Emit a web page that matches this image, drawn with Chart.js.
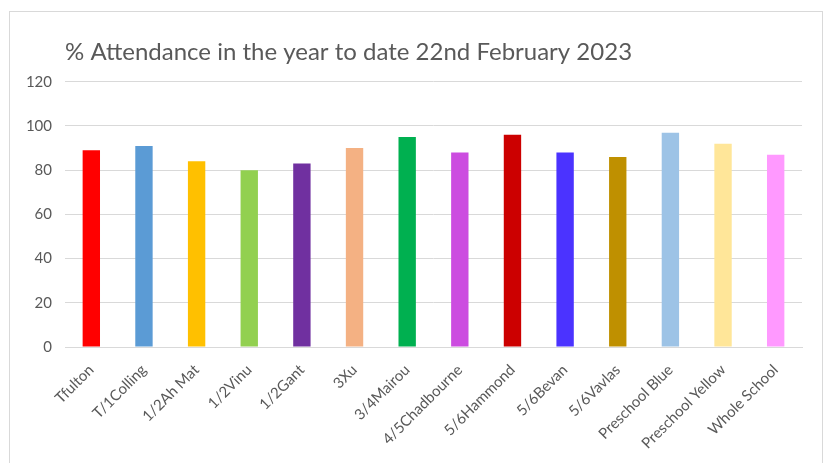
<!DOCTYPE html>
<html>
<head>
<meta charset="utf-8">
<script src="https://cdn.jsdelivr.net/npm/chart.js@4.4.0/dist/chart.umd.min.js"></script>
<style>
    body { margin: 0; background: #fff; }
    #box {
        position: absolute; left: 9px; top: 11px; width: 812px; height: 460px;
        border: 1px solid #d9d9d9; border-bottom: none; background: #fff;
    }
    #wrap { position: absolute; left: 0; top: 0; width: 812px; height: 452px; }
</style>
</head>
<body>
<div id="box"><div id="wrap"><canvas id="attendance_chart"></canvas></div></div>
<script>
const classNames = ["Tfulton", "T/1Colling", "1/2Ah Mat", "1/2Vinu", "1/2Gant", "3Xu", "3/4Mairou",
    "4/5Chadbourne", "5/6Hammond", "5/6Bevan", "5/6Vavlas", "Preschool Blue", "Preschool Yellow", "Whole School"];
const attendance = [89, 91, 84, 80, 83, 90, 95, 88, 96, 88, 86, 97, 92, 87];
const barColors = [
    "#ff0000",  // Tfulton
    "#5b9bd5",  // T/1Colling
    "#ffc000",  // 1/2Ah Mat
    "#92d050",  // 1/2Vinu
    "#7030a0",  // 1/2Gant
    "#f4b183",  // 3Xu
    "#00b050",  // 3/4Mairou
    "#cc4ce0",  // 4/5Chadbourne
    "#cc0000",  // 5/6Hammond
    "#4b33ff",  // 5/6Bevan
    "#bf9000",  // 5/6Vavlas
    "#9dc3e6",  // Preschool Blue
    "#ffe699",  // Preschool Yellow
    "#ff99ff",  // Whole School
];
const yTicks = [0, 20, 40, 60, 80, 100, 120];

const fontFamily = "Lato, 'Open Sans', sans-serif";
const ctx = document.getElementById("attendance_chart").getContext("2d");
const attendance_chart = new Chart(ctx, {
    type: 'bar',
    data: {
        labels: classNames,
        datasets: [{
            label: "% Attendance",
            data: attendance,
            backgroundColor: barColors,
            barPercentage: 0.33,
            categoryPercentage: 1,
        }],
    },
    options: {
        responsive: true, maintainAspectRatio: false, animation: false,
        layout: { padding: { left: 0, right: 20, top: 0, bottom: 0 } },
        plugins: {
            legend: { display: false },
            tooltip: { enabled: false },
            title: { display: true, text: '% Attendance in the year to date 22nd February 2023',
                align: 'start', fullSize: false, color: '#595959',
                font: { family: fontFamily, size: 24, weight: 'normal' },
                padding: { top: 26, bottom: 15 } },
        },
        scales: {
            x: {
                grid: { display: false },
                border: { color: '#d9d9d9' },
                ticks: { color: '#595959', font: { family: fontFamily, size: 15 },
                    minRotation: 45, maxRotation: 45, padding: 6 },
                afterFit: (scale) => { scale.height = 117; },
            },
            y: {
                min: 0, max: 120,
                afterBuildTicks: (scale) => { scale.ticks = yTicks.map(v => ({ value: v })); },
                grid: { color: '#d9d9d9', drawTicks: false },
                border: { display: false },
                ticks: { color: '#595959', font: { family: fontFamily, size: 15 }, padding: 13 },
                afterFit: (scale) => { scale.width = 55; },
            },
        },
    },
});
</script>
</body>
</html>
